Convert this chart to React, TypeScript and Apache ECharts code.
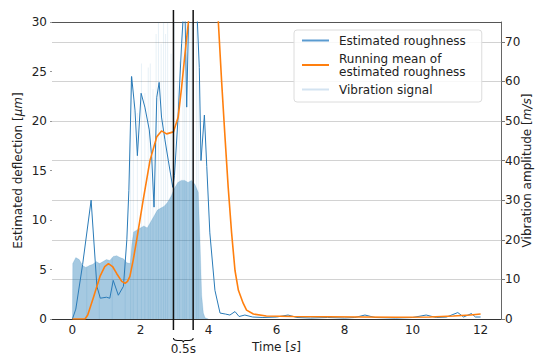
import React, { useEffect, useRef } from 'react';
import * as echarts from 'echarts';

// Estimated roughness (left axis, µm): [time s, value]
const roughness: [number, number][] = [
  [0, 0], [0.1, 1], [0.3, 5.5], [0.55, 12], [0.72, 3.3], [0.82, 2.1], [1.0, 2.2], [1.1, 2.1],
  [1.2, 3.9], [1.35, 2.4], [1.5, 3.3], [1.6, 8], [1.66, 13], [1.74, 24.5], [1.84, 21.1],
  [1.91, 16.5], [2.02, 22.8], [2.13, 21.4], [2.26, 19.1], [2.33, 16.4], [2.4, 11.3],
  [2.48, 22.4], [2.55, 23.9], [2.62, 20.4], [2.72, 18.1], [2.82, 16], [2.95, 13.3],
  [3.0, 14.5], [3.1, 20], [3.21, 27.8], [3.3, 33], [3.36, 21.4], [3.42, 31], [3.5, 38],
  [3.58, 36], [3.65, 32], [3.73, 25.4], [3.78, 16], [3.88, 20.6], [3.95, 15.4], [4.04, 8.7],
  [4.19, 2.9], [4.34, 0.6], [4.5, 0.5], [4.63, 0.4], [4.78, 0.75], [4.9, 0.25], [5.07, 0.4],
  [5.3, 0.2], [5.6, 0.15], [6.0, 0.2], [6.34, 0.4], [6.6, 0.15], [7.0, 0.1], [7.5, 0.15],
  [8.0, 0.1], [8.3, 0.15], [8.6, 0.4], [8.9, 0.15], [9.5, 0.1], [10.0, 0.15], [10.4, 0.4],
  [10.7, 0.15], [11.0, 0.2], [11.33, 0.65], [11.5, 0.2], [11.73, 0.55], [11.85, 0.2], [12.0, 0.2],
];

// Running mean of estimated roughness (left axis)
const runningMean: [number, number][] = [
  [0, 0], [0.37, 0], [0.45, 0.4], [0.62, 2.2], [0.81, 4.3], [0.95, 5.3], [1.06, 5.6],
  [1.18, 5.3], [1.3, 4.6], [1.45, 3.8], [1.55, 3.6], [1.62, 3.8], [1.69, 4.3], [1.79, 6],
  [1.89, 8], [2.08, 12], [2.28, 16], [2.48, 18.4], [2.62, 19], [2.77, 18.7], [2.97, 18.9],
  [3.11, 20.4], [3.21, 23.4], [3.31, 26.8], [3.41, 30], [3.55, 37], [3.75, 48], [3.95, 55],
  [4.1, 47], [4.29, 30], [4.39, 23.8], [4.48, 18.7], [4.58, 13.3], [4.68, 8.7], [4.78, 4.9],
  [4.88, 2.9], [5.02, 1.6], [5.12, 0.9], [5.32, 0.5], [5.7, 0.3], [6.5, 0.25], [7.5, 0.22],
  [8.5, 0.2], [9.5, 0.17], [10.5, 0.2], [11.2, 0.3], [11.7, 0.4], [12.0, 0.5],
];

// Vibration signal envelope (right axis, m/s)
const vibrationEnvelope: [number, number][] = [
  [0, 0], [0.01, 14], [0.1, 15.5], [0.2, 15], [0.3, 13.5], [0.4, 13], [0.5, 13.5], [0.6, 13.8],
  [0.7, 14.5], [0.8, 14], [0.9, 14.5], [1.0, 15], [1.1, 14.8], [1.2, 15.8], [1.3, 16],
  [1.4, 15.5], [1.5, 15.2], [1.6, 14.2], [1.7, 14], [1.75, 19], [1.8, 22], [1.9, 22.5],
  [2.0, 23], [2.1, 23.5], [2.2, 23], [2.3, 24.5], [2.4, 26], [2.5, 27.5], [2.6, 28],
  [2.7, 28.5], [2.8, 29.5], [2.9, 31], [3.0, 33], [3.1, 34.5], [3.2, 35], [3.3, 35],
  [3.4, 34.5], [3.5, 35], [3.6, 34], [3.7, 32], [3.75, 20], [3.8, 6], [3.85, 1.5], [3.9, 0.3], [4.0, 0],
];

// Vibration signal spikes (right axis)
const vibrationSpikes: [number, number][] = [
  [0.42, 13.5], [0.79, 14], [1.17, 15.5], [1.55, 15],
  [1.71, 61], [1.79, 55], [1.91, 52], [2.03, 64.5], [2.13, 57], [2.23, 63.5], [2.29, 64.5],
  [2.37, 58], [2.46, 72], [2.53, 80], [2.61, 69.5], [2.68, 80], [2.74, 72], [2.8, 80],
  [2.9, 67], [3.0, 80], [3.1, 60], [3.15, 65], [3.25, 80], [3.3, 70], [3.35, 80],
  [3.45, 80], [3.5, 75], [3.55, 80], [3.65, 80], [3.7, 60],
];

const markTimes = [2.97, 3.55];
const markLabel = '0.5s';
const nameRough = 'Estimated roughness';
const nameMean = 'Running mean of\nestimated roughness';
const nameVib = 'Vibration signal';

const FONT = "'DejaVu Sans', sans-serif";
const TXT = '#222';

echarts.graphic.registerShape(
  'brace',
  echarts.graphic.extendPath(
    'M0 0 C0 2.5 2 2.5 4 2.5 L8 2.5 C9.2 2.5 10 3 10 4.5 C10 3 10.8 2.5 12 2.5 L16 2.5 C18 2.5 20 2.5 20 0',
    {}
  ) as any
);

const nameStyle = {
  fontSize: 12,
  color: TXT,
  fontFamily: FONT,
  rich: { i: { fontStyle: 'italic', fontSize: 12, color: TXT, fontFamily: FONT } },
};
const labelStyle = { fontSize: 12, color: TXT, fontFamily: FONT };

export default function App() {
  const ref = useRef<HTMLDivElement>(null);
  useEffect(() => {
    if (!ref.current) return;
    const chart = echarts.init(ref.current, undefined, { renderer: 'svg' });
    const option: any = {
      animation: false,
      backgroundColor: '#fff',
      grid: { left: 52, right: 39, top: 22, bottom: 37, containLabel: false, outerBoundsMode: 'none' },
      legend: {
        orient: 'vertical', left: 294, top: 30, padding: [4, 16, 6, 8], itemGap: 5,
        itemWidth: 27, itemHeight: 2, backgroundColor: 'rgba(255,255,255,0.85)',
        borderColor: '#dcdcdc', borderWidth: 1, borderRadius: 3,
        textStyle: { fontSize: 12, lineHeight: 13, color: TXT, fontFamily: FONT, padding: [0, 0, 0, 5] },
        data: [
          { name: nameRough, icon: 'rect', itemStyle: { color: '#5a9bd0' } },
          { name: nameMean, icon: 'rect', itemStyle: { color: '#ff7f0e' } },
          { name: nameVib, icon: 'rect', itemStyle: { color: '#d3e3f1' } },
        ],
      },
      xAxis: [
        {
          type: 'value', min: -0.6, max: 12.6, splitNumber: 7,
          axisLine: { show: true, onZero: false, lineStyle: { color: '#333', width: 1 } },
          axisTick: { show: false }, splitLine: { show: false },
          axisLabel: { ...labelStyle, margin: 5, showMinLabel: false, showMaxLabel: false },
          name: 'Time [{i|s}]', nameLocation: 'middle', nameGap: 22, nameMoveOverlap: false,
          nameTextStyle: nameStyle,
        },
        {
          type: 'value', position: 'top', min: -0.6, max: 12.6,
          axisLine: { show: true, onZero: false, lineStyle: { color: '#555', width: 1 } },
          axisTick: { show: false }, axisLabel: { show: false }, splitLine: { show: false },
        },
      ],
      yAxis: [
        {
          type: 'value', position: 'left', min: 0, max: 30, interval: 5,
          axisLine: { show: false, onZero: false },
          axisTick: { show: true, length: 2, lineStyle: { color: '#999' } },
          splitLine: { show: false }, axisLabel: { ...labelStyle, margin: 5 },
          name: 'Estimated deflection [{i|μm}]', nameLocation: 'middle', nameRotate: 90,
          nameGap: 28, nameMoveOverlap: false, nameTextStyle: nameStyle,
        },
        {
          type: 'value', position: 'right', min: 0, max: 75, interval: 10,
          axisLine: { show: true, onZero: false, lineStyle: { color: '#666', width: 1 } },
          axisTick: { show: true, length: 4, lineStyle: { color: '#777' } },
          splitLine: { show: true, lineStyle: { color: '#d2d2d2', width: 1 } },
          axisLabel: { ...labelStyle, margin: 4, showMaxLabel: false },
          name: 'Vibration amplitude [{i|m/s}]', nameLocation: 'middle', nameRotate: 90,
          nameGap: 20, nameMoveOverlap: false, nameTextStyle: nameStyle,
        },
      ],
      series: [
        {
          name: nameVib, type: 'line', xAxisIndex: 0, yAxisIndex: 1, data: vibrationEnvelope,
          showSymbol: false, color: '#d3e3f1',
          lineStyle: { width: 0.5, color: 'rgba(31,119,180,0.3)' },
          areaStyle: { color: 'rgba(31,119,180,0.4)', opacity: 1 }, z: 1,
        },
        {
          name: nameVib, type: 'bar', xAxisIndex: 0, yAxisIndex: 1, data: vibrationSpikes,
          barWidth: 1, itemStyle: { color: 'rgba(31,119,180,0.1)' }, z: 1,
        },
        {
          name: nameRough, type: 'line', xAxisIndex: 0, yAxisIndex: 0, data: roughness,
          showSymbol: false, color: '#1f77b4', lineStyle: { width: 1, color: '#2a7bb8' }, z: 3,
        },
        {
          name: nameMean, type: 'line', xAxisIndex: 0, yAxisIndex: 0, data: runningMean,
          showSymbol: false, color: '#ff7f0e', lineStyle: { width: 1.6, color: '#ff7f0e' }, z: 4,
        },
      ],
    };
    chart.setOption(option);

    const x1 = chart.convertToPixel({ xAxisIndex: 0 }, markTimes[0]) as number;
    const x2 = chart.convertToPixel({ xAxisIndex: 0 }, markTimes[1]) as number;
    const yTop = chart.convertToPixel({ yAxisIndex: 0 }, 30) as number;
    const yBot = chart.convertToPixel({ yAxisIndex: 0 }, 0) as number;
    const w = x2 - x1;
    chart.setOption({
      graphic: [
        { type: 'line', shape: { x1: x1, y1: yTop - 12, x2: x1, y2: yBot + 11 }, style: { stroke: '#111', lineWidth: 1.5 }, z: 100 },
        { type: 'line', shape: { x1: x2, y1: yTop - 12, x2: x2, y2: yBot + 11 }, style: { stroke: '#111', lineWidth: 1.5 }, z: 100 },
        { type: 'brace', x: x1, y: yBot + 19, scaleX: w / 20, scaleY: 1, style: { stroke: '#111', fill: 'none', lineWidth: 1.1, strokeNoScale: true }, z: 100 },
        {
          type: 'text', x: (x1 + x2) / 2, y: yBot + 30,
          style: { text: markLabel, fontSize: 12, lineHeight: 12, fontFamily: FONT, fill: TXT, align: 'center', verticalAlign: 'middle' },
          z: 100,
        },
      ],
    });
    return () => chart.dispose();
  }, []);
  return <div ref={ref} style={{ position: 'absolute', left: 0, top: 0, width: 540, height: 356 }} />;
}
